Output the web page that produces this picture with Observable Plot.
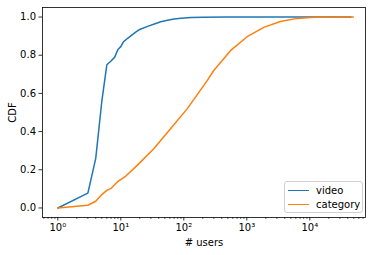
<!DOCTYPE html>
<html><head><meta charset="utf-8">
<script src="https://cdn.jsdelivr.net/npm/d3@7"></script>
<script src="https://cdn.jsdelivr.net/npm/@observablehq/plot@0.6"></script>
<style>
html,body{margin:0;padding:0;background:#fff;}
#wrap{position:relative;width:374px;height:255px;font-family:"DejaVu Sans",sans-serif;}
#legend{position:absolute;left:284px;top:181px;width:77px;height:30px;border:1px solid #d0d0d0;border-radius:3px;background:rgba(255,255,255,0.8);font-size:10px;}
.item{position:absolute;left:0;height:12px;display:flex;align-items:center;}
.sw{display:inline-block;width:21px;height:0;border-top:1.5px solid;margin-left:3px;margin-right:7px;}
</style></head>
<body><div id="wrap"></div>
<script>
const videoX = [1,3,4,5,6,7,8,9,10,11,13,17,20,26,35,43,55,70,90,130,200,500,5000,45000];
const videoY = [0,0.078,0.26,0.56,0.75,0.77,0.79,0.83,0.845,0.87,0.89,0.92,0.935,0.95,0.965,0.975,0.983,0.99,0.994,0.997,0.999,1.0,1.0,1.0];
const categoryX = [1,3,4,5,6,6.9,8.8,11.9,18.2,33.4,61.5,113,235,299,550,1014,1860,3400,6300,11500,49000];
const categoryY = [0,0.014,0.035,0.07,0.092,0.101,0.136,0.166,0.223,0.31,0.415,0.519,0.667,0.72,0.824,0.897,0.946,0.977,0.993,0.9995,1.0];
const seriesNames = ["video","category"];
const colors = ["#1f77b4","#ff7f0e"];
const xMajor = [1,10,100,1000,10000];
const xMajorLabels = ["10⁰","10¹","10²","10³","10⁴"];
const yTicks = [0,0.2,0.4,0.6,0.8,1.0];

const video = videoX.map((x,i)=>({x,y:videoY[i],s:seriesNames[0]}));
const category = categoryX.map((x,i)=>({x,y:categoryY[i],s:seriesNames[1]}));
const minor = [];
for (let e=-1;e<=4;e++) for (let k=2;k<=9;k++) { const v=k*10**e; if (v>10**-0.243 && v<10**4.884) minor.push(v); }

const chart = Plot.plot({
  width:374, height:255,
  marginLeft:42, marginRight:9, marginTop:7, marginBottom:38,
  style:{fontFamily:"DejaVu Sans, sans-serif", fontSize:"10px", color:"#000", background:"#fff"},
  x:{type:"log", domain:[10**-0.243, 10**4.884]},
  y:{domain:[-0.05,1.05]},
  marks:[
    Plot.axisX(minor,{tickSize:2, tickFormat:()=>"", stroke:"#000", strokeWidth:0.6, label:null}),
    Plot.axisX(xMajor,{tickSize:3.5, tickPadding:3, tickFormat:(d)=>xMajorLabels[xMajor.indexOf(d)], stroke:"#000", strokeWidth:0.8, fill:"#000", label:"# users", labelAnchor:"center", labelOffset:28, labelArrow:"none"}),
    Plot.axisY(yTicks,{tickSize:3.5, tickPadding:3, tickFormat:d3.format(".1f"), stroke:"#000", strokeWidth:0.8, fill:"#000", label:"CDF", labelAnchor:"center", labelOffset:34, labelArrow:"none"}),
    Plot.line(video,{x:"x",y:"y",stroke:colors[0],strokeWidth:1.5}),
    Plot.line(category,{x:"x",y:"y",stroke:colors[1],strokeWidth:1.5}),
    Plot.frame({stroke:"#000", strokeWidth:0.8})
  ]
});
const wrap = document.getElementById("wrap");
wrap.appendChild(chart);
const lg = document.createElement("div");
lg.id="legend";
seriesNames.forEach((n,i)=>{
  const it=document.createElement("div");
  it.className="item"; it.style.top=(2+i*14)+"px";
  const sw=document.createElement("span"); sw.className="sw"; sw.style.borderColor=colors[i];
  it.appendChild(sw); it.appendChild(document.createTextNode(n));
  lg.appendChild(it);
});
wrap.appendChild(lg);
</script></body></html>
